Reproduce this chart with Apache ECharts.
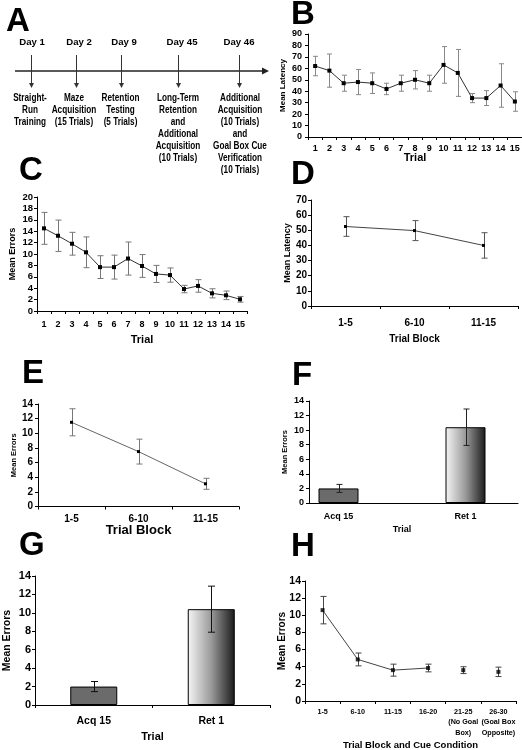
<!DOCTYPE html>
<html>
<head>
<meta charset="utf-8">
<script src="https://cdn.jsdelivr.net/npm/echarts@6/dist/echarts.min.js"></script>
<style>html,body{margin:0;padding:0;background:#fff}#c{width:522px;height:750px}</style>
</head>
<body>
<div id="c"></div>
<script>
// ---------- DATA ----------
// Panel A (timeline)
const dayLabels = ['Day 1', 'Day 2', 'Day 9', 'Day 45', 'Day 46'];
const dayNotes = [
  ['Straight-', 'Run', 'Training'],
  ['Maze', 'Acquisition', '(15 Trials)'],
  ['Retention', 'Testing', '(5 Trials)'],
  ['Long-Term', 'Retention', 'and', 'Additional', 'Acquisition', '(10 Trials)'],
  ['Additional', 'Acquisition', '(10 Trials)', 'and', 'Goal Box Cue', 'Verification', '(10 Trials)']
];
// Panel B
const trialCats = ['1','2','3','4','5','6','7','8','9','10','11','12','13','14','15'];
const latencyMeanB = [62, 58, 47, 48, 47, 42, 47, 50, 47, 63, 56, 34, 34, 45, 31];
const latencyErrB  = [8.5, 14.5, 7, 11, 9, 5, 7, 8, 7, 16, 20.5, 4, 6.5, 19, 8.5];
const latencyTicksB = {max: 90, step: 10};
// Panel C
const errorsMeanC = [14.5, 13.2, 11.8, 10.3, 7.7, 7.7, 9.2, 7.9, 6.5, 6.3, 3.85, 4.4, 3.1, 2.75, 2.05];
const errorsErrC  = [2.8, 2.75, 2.0, 2.7, 2.0, 2.1, 2.9, 2.0, 1.5, 1.25, 0.65, 1.1, 0.8, 0.75, 0.5];
const errorsTicksC = {max: 20, step: 2};
// Panel D
const blockCats = ['1-5', '6-10', '11-15'];
const latencyMeanD = [52.5, 49.8, 40];
const latencyErrD  = [6.5, 6.6, 8.4];
const latencyTicksD = {max: 70, step: 10};
// Panel E
const errorsMeanE = [11.5, 7.5, 3.1];
const errorsErrE  = [1.85, 1.7, 0.75];
const errorsTicksE = {max: 14, step: 2};
// Panels F and G
const barCats = ['Acq 15', 'Ret 1'];
const barMean = [2.0, 10.4];
const barErr  = [0.55, 2.5];
const errorsTicksFG = {max: 14, step: 2};
// Panel H
const cueCats = ['1-5', '6-10', '11-15', '16-20', '21-25\n(No Goal\nBox)', '26-30\n(Goal Box\nOpposite)'];
const errorsMeanH = [10.6, 4.85, 3.6, 3.85, 3.6, 3.4];
const errorsErrH  = [1.6, 0.75, 0.7, 0.45, 0.4, 0.55];
const connectedCountH = 4; // first four blocks joined by a line
const errorsTicksH = {max: 14, step: 2};

// ---------- CHART ----------
const FONT = '"Liberation Sans", Arial, Helvetica, sans-serif';

function yAx(gi, ticks, fs, margin, name, gap, nfs) {
  return {type: 'value', gridIndex: gi, min: 0, max: ticks.max, interval: ticks.step,
    splitLine: {show: false},
    axisLine: {show: true, onZero: false, lineStyle: {color: '#000', width: 1}},
    axisTick: {show: true, length: 3, lineStyle: {color: '#000', width: 1}},
    axisLabel: {color: '#000', fontSize: fs, fontWeight: 'bold', margin: margin, fontFamily: FONT},
    name: name, nameLocation: 'middle', nameRotate: 90, nameGap: gap, nameMoveOverlap: false,
    nameTextStyle: {color: '#000', fontSize: nfs, fontWeight: 'bold', fontFamily: FONT}};
}
function xAx(gi, data, fs, margin, name, gap, nfs, lh) {
  return {type: 'category', gridIndex: gi, data: data, boundaryGap: true,
    axisLine: {show: true, onZero: false, lineStyle: {color: '#000', width: 1}},
    axisTick: {show: true, length: 3, lineStyle: {color: '#000', width: 1}},
    axisLabel: {color: '#000', fontSize: fs, fontWeight: 'bold', margin: margin, interval: 0,
      fontFamily: FONT, lineHeight: lh || fs * 1.2},
    name: name, nameLocation: 'middle', nameGap: gap, nameMoveOverlap: false,
    nameTextStyle: {color: '#000', fontSize: nfs, fontWeight: 'bold', fontFamily: FONT}};
}
function errS(gi, means, errs, color, capHalf) {
  return {type: 'custom', xAxisIndex: gi, yAxisIndex: gi, z: 3, silent: true,
    encode: {x: 0, y: [1, 2]},
    data: means.map((m, i) => [i, m - errs[i], m + errs[i]]),
    renderItem: function (params, api) {
      const lo = api.coord([api.value(0), api.value(1)]);
      const hi = api.coord([api.value(0), api.value(2)]);
      const x = Math.round(hi[0]) + 0.5;
      const st = {stroke: color, lineWidth: 1};
      return {type: 'group', children: [
        {type: 'line', shape: {x1: x, y1: hi[1], x2: x, y2: lo[1]}, style: st},
        {type: 'line', shape: {x1: x - capHalf, y1: hi[1], x2: x + capHalf, y2: hi[1]}, style: st},
        {type: 'line', shape: {x1: x - capHalf, y1: lo[1], x2: x + capHalf, y2: lo[1]}, style: st}
      ]};
    }};
}
function lineS(gi, data, size, lineColor, showSym) {
  return {type: 'line', xAxisIndex: gi, yAxisIndex: gi, data: data, symbol: 'rect', symbolSize: size,
    showSymbol: showSym !== false, itemStyle: {color: '#000'},
    lineStyle: {color: lineColor, width: 1}, z: 4, silent: true};
}
const barItemStyles = [
  {color: '#6b6b6b', borderColor: '#000', borderWidth: 1},
  {color: new echarts.graphic.LinearGradient(0, 0, 1, 0, [
    {offset: 0, color: '#f6f6f6'}, {offset: 0.5, color: '#9a9a9a'}, {offset: 1, color: '#1a1a1a'}]),
   borderColor: '#000', borderWidth: 1}
];
function barS(gi, bw) {
  return {type: 'bar', xAxisIndex: gi, yAxisIndex: gi, barWidth: bw, silent: true, z: 2,
    data: barMean.map((v, i) => ({value: v, itemStyle: barItemStyles[i]}))};
}

// graphics: panel letters and timeline diagram
const G = [];
function txt(t, x, y, fs, align, scaleX, weight) {
  G.push({type: 'text', x: x, y: y, scaleX: scaleX || 1, silent: true,
    style: {text: t, fontSize: fs, fontWeight: weight || 'bold', fontFamily: FONT, fill: '#000',
      align: align, verticalAlign: 'middle'}});
}
[['A', 6, 21.5], ['B', 291, 14.5], ['C', 19, 171], ['D', 291, 175],
 ['E', 22, 373.5], ['F', 292, 375.5], ['G', 19, 545.5], ['H', 291, 547]]
  .forEach(l => txt(l[0], l[1], l[2], 33, 'left'));
// timeline
G.push({type: 'line', silent: true, shape: {x1: 15, y1: 71, x2: 263, y2: 71}, style: {stroke: '#222', lineWidth: 1.6}});
G.push({type: 'polygon', silent: true, shape: {points: [[269, 71], [262, 67.5], [262, 74.5]]}, style: {fill: '#222'}});
const dayLabelX = [32, 79, 124, 182, 239];
const arrowX = [31, 76, 121, 178, 239];
const noteX = [30, 74, 120.5, 178, 240];
dayLabels.forEach((d, i) => {
  txt(d, dayLabelX[i], 42, 9.6, 'center');
  const ax = arrowX[i] + 0.5;
  G.push({type: 'line', silent: true, shape: {x1: ax, y1: 55, x2: ax, y2: 84}, style: {stroke: '#333', lineWidth: 1}});
  G.push({type: 'polygon', silent: true, shape: {points: [[ax, 88], [ax - 2.5, 83], [ax + 2.5, 83]]}, style: {fill: '#333'}});
  dayNotes[i].forEach((line, j) => txt(line, noteX[i], 98 + 12 * j, 10, 'center', 0.82));
});

const grids = [
  {left: 308, top: 34, width: 214, height: 103},   // 0 B
  {left: 37, top: 197, width: 210, height: 114},   // 1 C
  {left: 311, top: 200, width: 207, height: 106},  // 2 D
  {left: 38, top: 404, width: 201, height: 102.5}, // 3 E
  {left: 309, top: 401, width: 209, height: 102},  // 4 F frame (axes)
  {left: 35, top: 576, width: 235, height: 129},   // 5 G
  {left: 305, top: 581, width: 211, height: 120},  // 6 H
  {left: 275, top: 401, width: 254, height: 102}   // 7 F bars
].map(g => Object.assign({outerBoundsMode: 'none', containLabel: false}, g));

// F frame x axis (line only) and F bar axis (labels only)
const xF = xAx(4, barCats, 9, 8, '', 22, 9);
xF.axisLabel.show = false;
xF.axisTick.show = false;
const xFbars = xAx(7, barCats, 9, 8, 'Trial', 22, 9);
xFbars.axisLine.show = false;
xFbars.axisTick.show = false;
const yFbars = yAx(7, errorsTicksFG, 9, 5, '', 20, 7.5);
yFbars.show = false;

const option = {
  animation: false,
  backgroundColor: '#fff',
  textStyle: {fontFamily: FONT},
  grid: grids,
  xAxis: [
    xAx(0, trialCats, 9, 6, 'Trial', 15, 11),
    xAx(1, trialCats, 9, 8, 'Trial', 23, 11),
    xAx(2, blockCats, 10, 11, 'Trial Block', 28, 10),
    xAx(3, blockCats, 10, 7, 'Trial Block', 17, 13),
    xF,
    xAx(5, barCats, 10.5, 10, 'Trial', 26, 11),
    xAx(6, cueCats, 7.2, 5.5, 'Trial Block and Cue Condition', 39, 9.5, 10.5),
    xFbars
  ],
  yAxis: [
    yAx(0, latencyTicksB, 9, 6, 'Mean Latency', 21, 8),
    yAx(1, errorsTicksC, 9.5, 4, 'Mean Errors', 20, 9),
    yAx(2, latencyTicksD, 10, 4, 'Mean Latency', 19, 9),
    yAx(3, errorsTicksE, 10, 5, 'Mean Errors', 20, 7.5),
    yAx(4, errorsTicksFG, 9, 5, 'Mean Errors', 20, 7.5),
    yAx(5, errorsTicksFG, 11, 4, 'Mean Errors', 22, 10.5),
    yAx(6, errorsTicksH, 10.5, 4, 'Mean Errors', 18, 10),
    yFbars
  ],
  series: [
    errS(0, latencyMeanB, latencyErrB, '#888', 2.5),
    lineS(0, latencyMeanB, 4, '#333'),
    errS(1, errorsMeanC, errorsErrC, '#777', 3),
    lineS(1, errorsMeanC, 4, '#333'),
    errS(2, latencyMeanD, latencyErrD, '#555', 3),
    lineS(2, latencyMeanD, 3, '#444'),
    errS(3, errorsMeanE, errorsErrE, '#777', 3),
    lineS(3, errorsMeanE, 3, '#666'),
    barS(7, 40),
    errS(7, barMean, barErr, '#222', 3),
    barS(5, '40%'),
    errS(5, barMean, barErr, '#111', 3.5),
    errS(6, errorsMeanH, errorsErrH, '#444', 3),
    lineS(6, errorsMeanH.slice(0, connectedCountH), 4, '#444', false),
    {type: 'scatter', xAxisIndex: 6, yAxisIndex: 6, data: errorsMeanH, symbol: 'rect', symbolSize: 4,
      itemStyle: {color: '#000'}, z: 5, silent: true}
  ],
  graphic: G
};
const chart = echarts.init(document.getElementById('c'), null, {renderer: 'canvas'});
chart.setOption(option);
</script>
</body>
</html>
